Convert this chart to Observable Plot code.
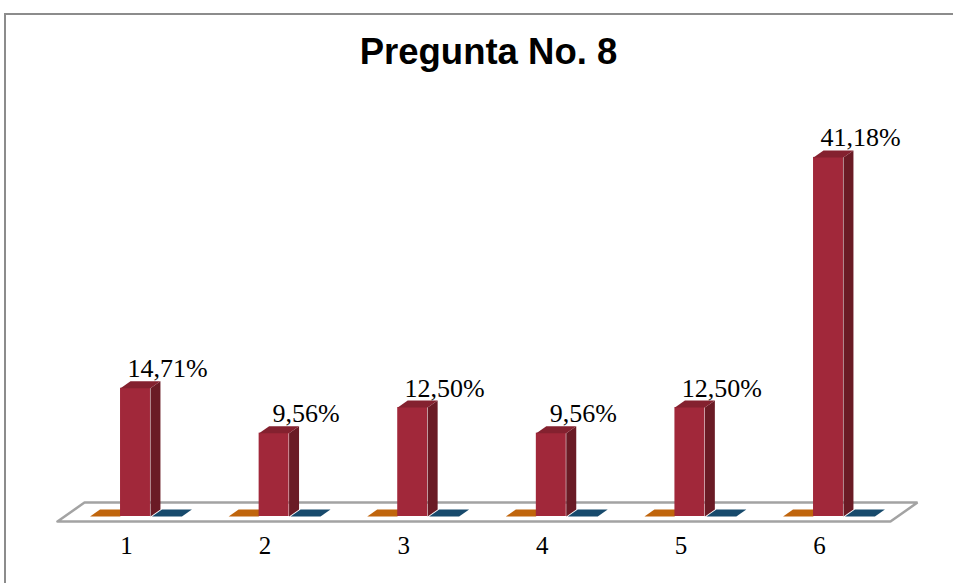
<!DOCTYPE html>
<html><head><meta charset="utf-8">
<script src="https://cdn.jsdelivr.net/npm/d3@7"></script>
<script src="https://cdn.jsdelivr.net/npm/@observablehq/plot@0.6"></script>
<style>
html,body{margin:0;padding:0;background:#fff;}
#wrap{position:relative;width:953px;height:583px;overflow:hidden;background:#fff;}
#frame{position:absolute;left:4px;top:13px;width:1000px;height:700px;border-top:2px solid #8c8c8c;border-left:2px solid #8c8c8c;}
#title{position:absolute;left:0;width:977px;top:31px;line-height:42px;text-align:center;font-weight:bold;font-size:36.5px;font-family:"Liberation Sans",Arial,sans-serif;color:#000;z-index:2;}
#chart{position:absolute;left:0;top:0;z-index:1;}
#chart svg text{font-family:"Liberation Serif","Times New Roman",serif !important;}
</style></head><body>
<div id="wrap"><div id="frame"></div><div id="title">Pregunta No. 8</div><div id="chart"></div></div>
<script>
// ---- data ----
const categories = ["1", "2", "3", "4", "5", "6"];
const seriesOrange = [0, 0, 0, 0, 0, 0];
const seriesRed = [14.71, 9.56, 12.50, 9.56, 12.50, 41.18];
const seriesBlue = [0, 0, 0, 0, 0, 0];
const valueLabels = ["14,71%", "9,56%", "12,50%", "9,56%", "12,50%", "41,18%"];

// ---- geometry (in scale units) ----
const half = 0.108;             // half bar width (category units)
const ddx = 0.072, ddy = 0.8;   // 3D depth offset (category units, percent units)
const series = [
  {name: "orange", values: seriesOrange, off: -0.22, front: "#c0650c", side: "#8a4808", top: "#c0650c"},
  {name: "blue", values: seriesBlue, off: 0.227, front: "#174a6c", side: "#0f3550", top: "#174a6c"},
  {name: "red", values: seriesRed, off: 0, front: "#a1283a", side: "#6a1b25", top: "#84212f"}
];

const fronts = [], sides = [], tops = [];
series.forEach(s => {
  s.values.forEach((v, i) => {
    const c = i + s.off, xl = c - half, xr = c + half;
    fronts.push({x1: xl, x2: xr, y1: 0, y2: v, fill: s.front});
    const sid = s.name + i;
    [[xr, 0], [xr + ddx, ddy], [xr + ddx, v + ddy], [xr, v], [xr, 0]]
      .forEach(([x, y]) => sides.push({x, y, id: sid, fill: s.side}));
    [[xl, v], [xr, v], [xr + ddx, v + ddy], [xl + ddx, v + ddy], [xl, v]]
      .forEach(([x, y]) => tops.push({x, y, id: sid, fill: s.top}));
  });
});

// floor parallelogram
const fx0 = -0.563, fx1 = 5.447, fdx = 0.195, fy0 = -0.57, fy1 = 1.6;
const floor = [[fx0, fy0], [fx1, fy0], [fx1 + fdx, fy1], [fx0 + fdx, fy1], [fx0, fy0]]
  .map(([x, y]) => ({x, y}));

const labelData = seriesRed.map((v, i) => ({x: i, y: v, text: valueLabels[i]}));
const serif = '"Liberation Serif", "Times New Roman", serif';

const chart = Plot.plot({
  width: 953,
  height: 583,
  marginTop: 0, marginRight: 0, marginLeft: 0, marginBottom: 67,
  x: {domain: [-0.5, 5.5], range: [65.7, 897.3], axis: null},
  y: {domain: [0, 45], range: [516, 123.6], axis: null},
  color: {type: "identity"},
  style: {background: "transparent", overflow: "visible", fontFamily: serif},
  marks: [
    Plot.line(floor, {x: "x", y: "y", fill: "white", stroke: "#a3a3a3", strokeWidth: 2.5, strokeLinejoin: "miter"}),
    Plot.line(tops.filter(d => !d.id.startsWith("red")), {x: "x", y: "y", z: "id", fill: "fill", stroke: null}),
    Plot.rect(fronts.filter(d => d.y2 > 0), {x1: "x1", x2: "x2", y1: "y1", y2: "y2", fill: "fill"}),
    Plot.line(sides.filter(d => d.id.startsWith("red")), {x: "x", y: "y", z: "id", fill: "fill", stroke: null}),
    Plot.line(tops.filter(d => d.id.startsWith("red")), {x: "x", y: "y", z: "id", fill: "fill", stroke: null}),
    Plot.text(labelData, {x: "x", y: "y", text: "text", dx: 32, dy: -11, lineAnchor: "bottom",
      fontSize: 26, fontFamily: serif, fill: "#000"}),
    Plot.text(categories, {x: (d, i) => i, text: d => d, frameAnchor: "bottom", dy: 37, dx: -9,
      fontSize: 25, fontFamily: serif, fill: "#000"})
  ]
});
document.getElementById("chart").appendChild(chart);
</script>
</body></html>
